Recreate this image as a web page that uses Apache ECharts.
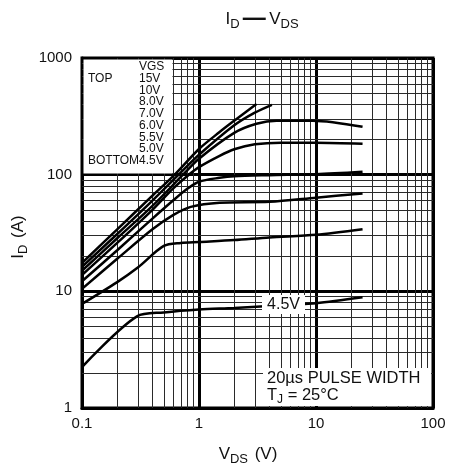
<!DOCTYPE html>
<html><head><meta charset="utf-8">
<script src="https://cdn.jsdelivr.net/npm/echarts@6/dist/echarts.min.js"></script>
<style>html,body{margin:0;padding:0;background:#fff}#c{width:449px;height:475px}</style>
</head><body><div id="c"></div>
<script>
const FONT = '"Liberation Sans", Arial, Helvetica, sans-serif';

// axis ranges / tick labels
const xTicks = [0.1, 1, 10, 100];
const yTicks = [1, 10, 100, 1000];
// minor grid lines (2..9 in each decade)
const xMinor = [0.2,0.3,0.4,0.5,0.6,0.7,0.8,0.9, 2,3,4,5,6,7,8,9, 20,30,40,50,60,70,80,90];
const yMinor = [2,3,4,5,6,7,8,9, 20,30,40,50,60,70,80,90, 200,300,400,500,600,700,800,900];

// VGS legend labels
const vgsLabels = ['15V','10V','8.0V','7.0V','6.0V','5.5V','5.0V','4.5V'];

// curves: [VDS (V), ID (A)]
const c15 = [[0.1,17.5],[0.2,34],[0.4,66],[0.62,100],[1,166],[1.5,232],[2,290],[3.1,404]];
const c10 = [[0.1,16.2],[0.2,31],[0.4,60],[0.67,100],[1,148],[2,265],[3,340],[4.2,397]];
const c8  = [[0.1,15],[0.2,28.5],[0.4,54],[0.73,100],[1,137],[2,228],[3.1,273],[4.6,290],[9.4,290],[25,257]];
const c7  = [[0.1,13.8],[0.2,26],[0.4,50],[0.6,76],[0.8,98],[1,116],[1.5,145],[2,165],[3,182],[5,188],[10,188],[25,184]];
const c6  = [[0.1,12.2],[0.2,22.5],[0.4,42],[0.6,60],[0.8,76],[1,87],[1.5,94],[2,97],[4,99],[10,101],[25,106]];
const c55 = [[0.1,10.5],[0.2,19],[0.4,34],[0.6,45],[0.85,53],[1.5,57.5],[4,58.5],[10,63.5],[25,69]];
const c5  = [[0.1,7.8],[0.2,12],[0.3,16],[0.5,24.5],[0.7,26],[1,26.5],[2,27.5],[4,29],[10,30.5],[25,34]];
const c45 = [[0.1,2.24],[0.295,6.1],[0.5,6.6],[1,7.0],[2,7.2],[4,7.5],[8,7.8],[10,7.9],[25,8.9]];
const curves = [c15, c10, c8, c7, c6, c55, c5, c45];

const chart = echarts.init(document.getElementById('c'), null, {renderer: 'canvas'});

const series = curves.map((d, i) => ({
  type: 'line', name: vgsLabels[i], data: d, symbol: 'none', showSymbol: false,
  smooth: 0.3, silent: true, z: 10,
  lineStyle: {color: '#000', width: 2.5}
}));
series.push({
  type: 'line', data: [], silent: true, z: 3,
  markLine: {
    silent: true, z: 3, symbol: ['none','none'], animation: false,
    label: {show: false},
    lineStyle: {color: '#2a2a2a', width: 1, type: 'solid'},
    emphasis: {disabled: true},
    data: [...xMinor.map(v => ({xAxis: v})), ...yMinor.map(v => ({yAxis: v}))]
  }
});

const subRich = {
  m: {fontSize: 17, lineHeight: 20, verticalAlign: 'middle', fontFamily: FONT, fill: '#111'},
  s: {fontSize: 13, lineHeight: 24, verticalAlign: 'bottom', fontFamily: FONT, fill: '#111'},
  d: {fontSize: 23, lineHeight: 20, verticalAlign: 'middle', fontFamily: FONT, fontWeight: 'bold', fill: '#111'}
};

const legendLines = ['VGS'].concat(vgsLabels.slice(0, 7)).concat(['4.5V']);
const legendGraphics = [];
legendGraphics.push({type: 'rect', shape: {x: 83.5, y: 59.5, width: 89, height: 114}, style: {fill: '#fff'}, z: 6, silent: true});
legendLines.forEach((t, i) => {
  legendGraphics.push({type: 'text', x: 139, y: 67 + i * 11.7, z: 7, silent: true,
    style: {text: t, font: '12px ' + FONT, fill: '#111', verticalAlign: 'middle', align: 'left'}});
});
legendGraphics.push({type: 'text', x: 88, y: 79, z: 7, silent: true,
  style: {text: 'TOP', font: '12px ' + FONT, fill: '#111', verticalAlign: 'middle'}});
legendGraphics.push({type: 'text', x: 88, y: 67 + 8 * 11.7, z: 7, silent: true,
  style: {text: 'BOTTOM', font: '12px ' + FONT, fill: '#111', verticalAlign: 'middle'}});

const option = {
  animation: false,
  backgroundColor: '#fff',
  grid: {left: 82, right: 16, top: 58, bottom: 67, show: true, borderColor: '#000', borderWidth: 3, backgroundColor: 'transparent'},
  xAxis: {
    type: 'log', logBase: 10, min: xTicks[0], max: xTicks[xTicks.length - 1],
    axisLine: {show: true, lineStyle: {color: '#000', width: 3}},
    axisTick: {show: false},
    axisLabel: {color: '#111', fontFamily: FONT, fontSize: 15, margin: 8,
      formatter: v => { const t = xTicks.find(k => Math.abs(k - v) / k < 1e-6); return t === undefined ? '' : String(t); }},
    splitLine: {show: true, lineStyle: {color: '#000', width: 3}},
    minorTick: {show: false}, minorSplitLine: {show: false}
  },
  yAxis: {
    type: 'log', logBase: 10, min: yTicks[0], max: yTicks[yTicks.length - 1],
    axisLine: {show: true, lineStyle: {color: '#000', width: 3}},
    axisTick: {show: false},
    axisLabel: {color: '#111', fontFamily: FONT, fontSize: 15, margin: 10,
      formatter: v => { const t = yTicks.find(k => Math.abs(k - v) / k < 1e-6); return t === undefined ? '' : String(t); }},
    splitLine: {show: true, lineStyle: {color: '#000', width: 3}}
  },
  graphic: [
    // title
    {type: 'text', x: 262, y: 7, z: 30, silent: true,
      style: {text: '{m|I}{s|D} {d|—} {m|V}{s|DS}', rich: subRich, align: 'center', verticalAlign: 'top'}},
    // x axis name
    {type: 'text', x: 248, y: 442, z: 30, silent: true,
      style: {text: '{m|V}{s|DS}  {m|(V)}', rich: subRich, align: 'center', verticalAlign: 'top'}},
    // y axis name
    {type: 'text', x: 6, y: 237, rotation: Math.PI / 2, z: 30, silent: true,
      style: {text: '{m|I}{s|D}  {m|(A)}', rich: subRich, align: 'center', verticalAlign: 'top'}},
    ...legendGraphics,
    // 4.5V label
    {type: 'rect', shape: {x: 262, y: 295, width: 43, height: 19}, style: {fill: '#fff'}, z: 20, silent: true},
    {type: 'text', x: 283.5, y: 304.5, z: 21, silent: true,
      style: {text: '4.5V', font: '16px ' + FONT, fill: '#111', align: 'center', verticalAlign: 'middle'}},
    // pulse box
    {type: 'rect', shape: {x: 263, y: 368, width: 168, height: 38}, style: {fill: '#fff'}, z: 20, silent: true},
    {type: 'text', x: 267, y: 378, z: 21, silent: true,
      style: {text: '20µs PULSE WIDTH', font: '16.5px ' + FONT, fill: '#111', verticalAlign: 'middle'}},
    {type: 'text', x: 267, y: 384, z: 21, silent: true,
      style: {text: '{m|T}{s|J}{m| = 25°C}', rich: {
        m: {fontSize: 16.5, lineHeight: 18, verticalAlign: 'middle', fontFamily: FONT, fill: '#111'},
        s: {fontSize: 12, lineHeight: 22, verticalAlign: 'bottom', fontFamily: FONT, fill: '#111'}
      }, verticalAlign: 'top'}}
  ],
  series: series
};
chart.setOption(option);
</script>
</body></html>
